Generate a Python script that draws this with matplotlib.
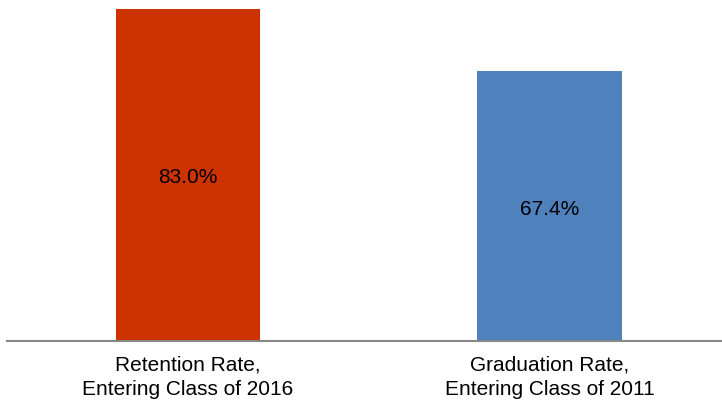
import matplotlib.pyplot as plt

plt.rcParams['font.family'] = ['Liberation Sans', 'DejaVu Sans']

# chart data
categories = ['Retention Rate,\nEntering Class of 2016', 'Graduation Rate,\nEntering Class of 2011']
rates = [83.0, 67.4]
colors = ['#CC3300', '#4F81BD']

fig = plt.figure(figsize=(7.22, 4.06), dpi=100)
ax = fig.add_axes([7 / 722, 64 / 406, 1 - 7 / 722, 342 / 406])

x = range(len(categories))
bars = ax.bar(x, rates, width=0.4, color=colors)

for bar, val in zip(bars, rates):
    ax.text(bar.get_x() + bar.get_width() / 2, val / 2, f'{val:.1f}%',
            ha='center', va='center_baseline', fontsize=15, color='black')

ax.set_xlim(-0.5, 1.476)
ax.set_ylim(0, 85.5)
ax.set_xticks(list(x))
ax.set_xticklabels(categories, fontsize=15, linespacing=1.42)
ax.tick_params(axis='x', length=0, pad=9.5)
ax.set_yticks([])

for side in ['top', 'right', 'left']:
    ax.spines[side].set_visible(False)
ax.spines['bottom'].set_color('#888888')
ax.spines['bottom'].set_linewidth(1.5)

fig.savefig('out.png', dpi=100)
